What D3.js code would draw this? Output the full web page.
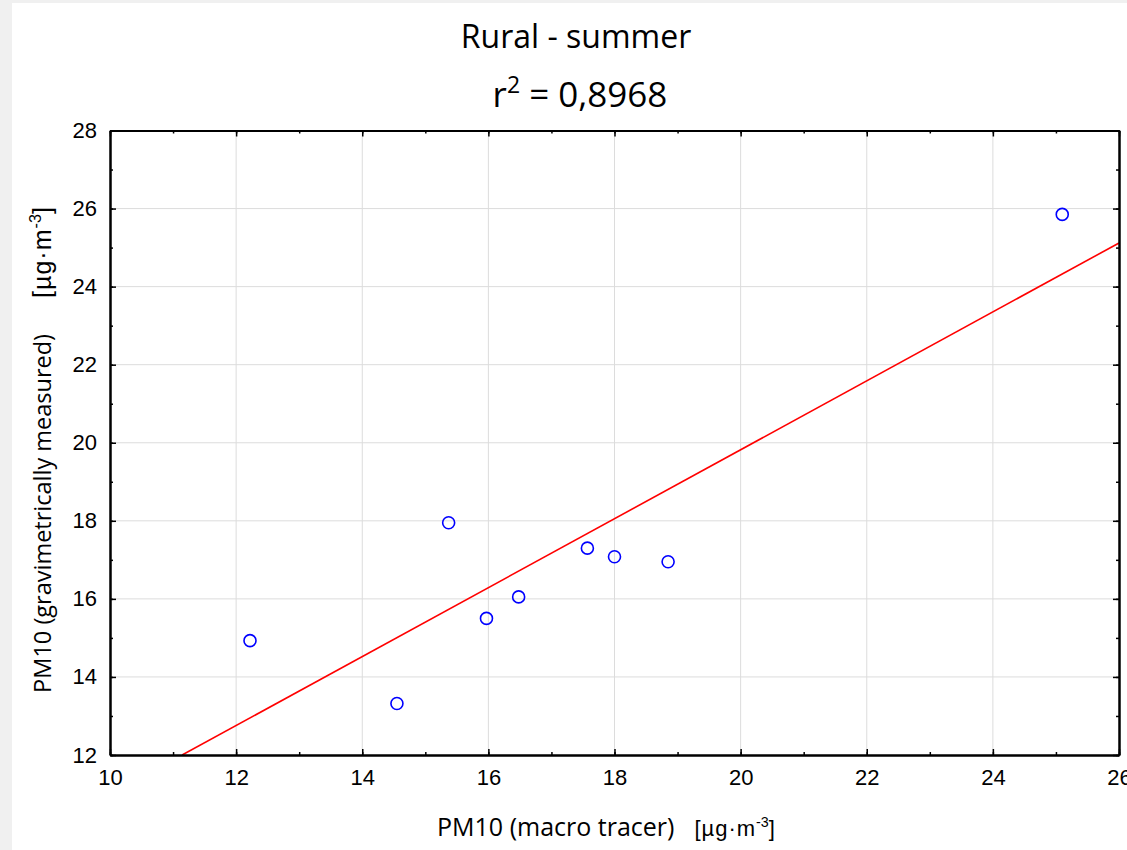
<!DOCTYPE html>
<html>
<head>
<meta charset="utf-8">
<script src="https://d3js.org/d3.v7.min.js"></script>
<style>
  body { margin: 0; background: #f0f0f0; }
  svg { display: block; }
</style>
</head>
<body></body>
<script>
var macroTracer = [12.22, 14.55, 15.37, 15.97, 16.48, 17.57, 18.00, 18.85, 25.10];
var gravimetric = [14.93, 13.32, 17.95, 15.50, 16.05, 17.30, 17.08, 16.95, 25.85];
var fitSlope = 0.883, fitIntercept = 2.16;
var xTicks = [10, 12, 14, 16, 18, 20, 22, 24, 26];
var yTicks = [12, 14, 16, 18, 20, 22, 24, 26, 28];
var titleText = "Rural - summer";
var r2Text = "0,8968";

var W = 1127, H = 850;
var margin = {top: 130.5, right: 8, bottom: 95, left: 110};
var width = W - margin.left - margin.right,
    height = H - margin.top - margin.bottom;

var svg = d3.select("body").append("svg")
    .attr("width", W)
    .attr("height", H);

// white panel, gray strip left/top
svg.append("rect")
    .attr("x", 12).attr("y", 3)
    .attr("width", W - 12).attr("height", H - 3)
    .attr("fill", "#fff");

var g = svg.append("g")
    .attr("transform", "translate(" + margin.left + "," + margin.top + ")");

var x = d3.scaleLinear().domain([10, 26]).range([0, width]);
var y = d3.scaleLinear().domain([12, 28]).range([height, 0]);

// grid
g.selectAll(".vgrid").data(xTicks.slice(1, -1)).enter().append("line")
    .attr("x1", d => x(d)).attr("x2", d => x(d))
    .attr("y1", 0).attr("y2", height)
    .attr("stroke", "#dcdcdc").attr("stroke-width", 1);
g.selectAll(".hgrid").data(yTicks.slice(1, -1)).enter().append("line")
    .attr("y1", d => y(d)).attr("y2", d => y(d))
    .attr("x1", 0).attr("x2", width)
    .attr("stroke", "#dcdcdc").attr("stroke-width", 1);

// regression line clipped to plot
g.append("clipPath").attr("id", "clip")
  .append("rect").attr("width", width).attr("height", height);

var x0 = (12 - fitIntercept) / fitSlope;
g.append("line")
    .attr("clip-path", "url(#clip)")
    .attr("x1", x(x0)).attr("y1", y(12))
    .attr("x2", x(26)).attr("y2", y(fitSlope * 26 + fitIntercept))
    .attr("stroke", "#ff0000").attr("stroke-width", 1.6);

// points
g.selectAll("circle").data(macroTracer).enter().append("circle")
    .attr("cx", d => x(d))
    .attr("cy", (d, i) => y(gravimetric[i]))
    .attr("r", 6)
    .attr("fill", "none")
    .attr("stroke", "#0000ff")
    .attr("stroke-width", 1.6);

// axes: ticks pointing inward on all four sides
var minorX = d3.range(10, 27, 1), minorY = d3.range(12, 29, 1);
function styleAxis(sel) {
  sel.select(".domain").attr("stroke", "#000").attr("stroke-width", 2);
  sel.selectAll(".tick line").attr("stroke", "#000").attr("stroke-width", 1.5);
}
var tickFont = "'Liberation Sans', Arial, sans-serif";

var axB = g.append("g").attr("transform", "translate(0," + height + ")")
    .call(d3.axisBottom(x).tickValues(xTicks).tickSizeInner(-6).tickSizeOuter(0).tickPadding(14).tickFormat(d3.format("d")));
axB.selectAll("text").attr("font-family", tickFont).attr("font-size", 22).attr("fill", "#000");
axB.call(styleAxis);
g.append("g").attr("transform", "translate(0," + height + ")")
    .call(d3.axisBottom(x).tickValues(minorX).tickSizeInner(-3).tickSizeOuter(0).tickFormat(""))
    .call(styleAxis);

g.append("g")
    .call(d3.axisTop(x).tickValues(xTicks).tickSizeInner(-6).tickSizeOuter(0).tickFormat(""))
    .call(styleAxis);
g.append("g")
    .call(d3.axisTop(x).tickValues(minorX).tickSizeInner(-3).tickSizeOuter(0).tickFormat(""))
    .call(styleAxis);

var axL = g.append("g")
    .call(d3.axisLeft(y).tickValues(yTicks).tickSizeInner(-6).tickSizeOuter(0).tickPadding(13).tickFormat(d3.format("d")));
axL.selectAll("text").attr("font-family", tickFont).attr("font-size", 22).attr("fill", "#000");
axL.call(styleAxis);
g.append("g")
    .call(d3.axisLeft(y).tickValues(minorY).tickSizeInner(-3).tickSizeOuter(0).tickFormat(""))
    .call(styleAxis);

g.append("g").attr("transform", "translate(" + width + ",0)")
    .call(d3.axisRight(y).tickValues(yTicks).tickSizeInner(-6).tickSizeOuter(0).tickFormat(""))
    .call(styleAxis);
g.append("g").attr("transform", "translate(" + width + ",0)")
    .call(d3.axisRight(y).tickValues(minorY).tickSizeInner(-3).tickSizeOuter(0).tickFormat(""))
    .call(styleAxis);

// titles
var labelFont = "'Open Sans', Lato, sans-serif";
svg.append("text")
    .attr("x", 576).attr("y", 48)
    .attr("text-anchor", "middle")
    .attr("font-family", labelFont).attr("font-size", 32)
    .text(titleText);

var t2 = svg.append("text")
    .attr("x", 580).attr("y", 107)
    .attr("text-anchor", "middle")
    .attr("font-family", labelFont).attr("font-size", 35);
t2.append("tspan").text("r");
t2.append("tspan").attr("font-size", 23).attr("dy", -14).text("2");
t2.append("tspan").attr("dy", 14).text(" = " + r2Text);

// axis titles
function unitLabel(sel, gap, size) {
  sel.append("tspan").attr("font-family", tickFont).attr("font-size", size)
      .attr("letter-spacing", 1).attr("dx", gap).text("[µg·m");
  sel.append("tspan").attr("font-family", tickFont).attr("font-size", size * 0.65)
      .attr("dy", -size * 0.4).text("-3");
  sel.append("tspan").attr("font-family", tickFont).attr("font-size", size)
      .attr("dy", size * 0.4).text("]");
}

var xl = svg.append("text")
    .attr("x", 606).attr("y", 836)
    .attr("text-anchor", "middle")
    .attr("font-family", labelFont).attr("font-size", 25);
xl.append("tspan").text("PM10 (macro tracer)");
unitLabel(xl, 20, 22);

var yl = svg.append("text")
    .attr("transform", "translate(51,450) rotate(-90)")
    .attr("text-anchor", "middle")
    .attr("font-family", labelFont).attr("font-size", 23.5);
yl.append("tspan").text("PM10 (gravimetrically measured)");
unitLabel(yl, 36, 25);
</script>
</html>
